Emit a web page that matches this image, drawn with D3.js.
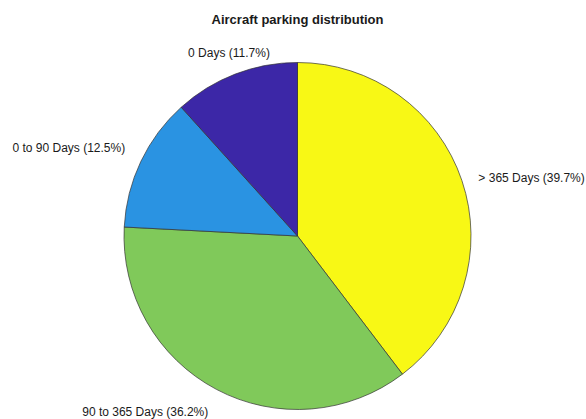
<!DOCTYPE html>
<html>
<head>
<meta charset="utf-8">
<script src="https://cdn.jsdelivr.net/npm/d3@7"></script>
<style>
  html, body { margin: 0; padding: 0; background: #ffffff; }
  svg { display: block; }
  text { font-family: "Liberation Sans", Arial, Helvetica, sans-serif; fill: #1a1a1a; }
</style>
</head>
<body>
<svg id="chart" width="586" height="419"></svg>
<script>
// Parking duration buckets, drawn clockwise from 12 o'clock
const categories = ["> 365 Days", "90 to 365 Days", "0 to 90 Days", "0 Days"];
const shares = [39.7, 36.2, 12.5, 11.7];
const sliceColors = ["#f8f815", "#80c95a", "#2a93e2", "#3c27a7"];
const chartTitle = "Aircraft parking distribution";

const width = 586, height = 419;
const cx = 297.5, cy = 236, radius = 173.5;

const svg = d3.select("#chart");

svg.append("text")
  .attr("x", cx)
  .attr("y", 24)
  .attr("text-anchor", "middle")
  .attr("font-size", 13)
  .attr("font-weight", "bold")
  .attr("fill", "#000")
  .text(chartTitle);

const data = categories.map((c, i) => ({ name: c, value: shares[i], color: sliceColors[i] }));

const pie = d3.pie().value(d => d.value).sort(null);
const arc = d3.arc().innerRadius(0).outerRadius(radius);
const arcs = pie(data);

const g = svg.append("g").attr("transform", `translate(${cx},${cy})`);

g.selectAll("path.slice")
  .data(arcs)
  .join("path")
  .attr("class", "slice")
  .attr("d", arc)
  .attr("fill", d => d.data.color)
  .attr("stroke", "#333")
  .attr("stroke-width", 0.7)
  .attr("stroke-linejoin", "round");

// Labels sit just outside the rim; the side of the text box facing the
// pie touches a circle at 1.1 × radius along the slice's mid-angle.
const labelR = radius * 1.1;
const fmt = d3.format(".1f");

arcs.forEach(a => {
  const mid = (a.startAngle + a.endAngle) / 2;
  const s = Math.sin(mid), c = Math.cos(mid);
  const px = labelR * s, py = -labelR * c;

  const t = g.append("text")
    .attr("font-size", 12)
    .text(`${a.data.name} (${fmt(a.data.value)}%)`);

  let anchor = "middle";
  if (s > 0.4) anchor = "start";
  else if (s < -0.4) anchor = "end";
  t.attr("text-anchor", anchor).attr("x", px);

  // vertical placement: bottom edge, middle or top edge at the anchor point
  let y;
  if (c > 0.6) y = py - 1;          // text above the point
  else if (c < -0.6) y = py + 11;   // text below the point
  else y = py + 4 - 6 * (s < 0) + 3 * (s > 0); // centred on the point
  t.attr("y", y);
});
</script>
</body>
</html>
